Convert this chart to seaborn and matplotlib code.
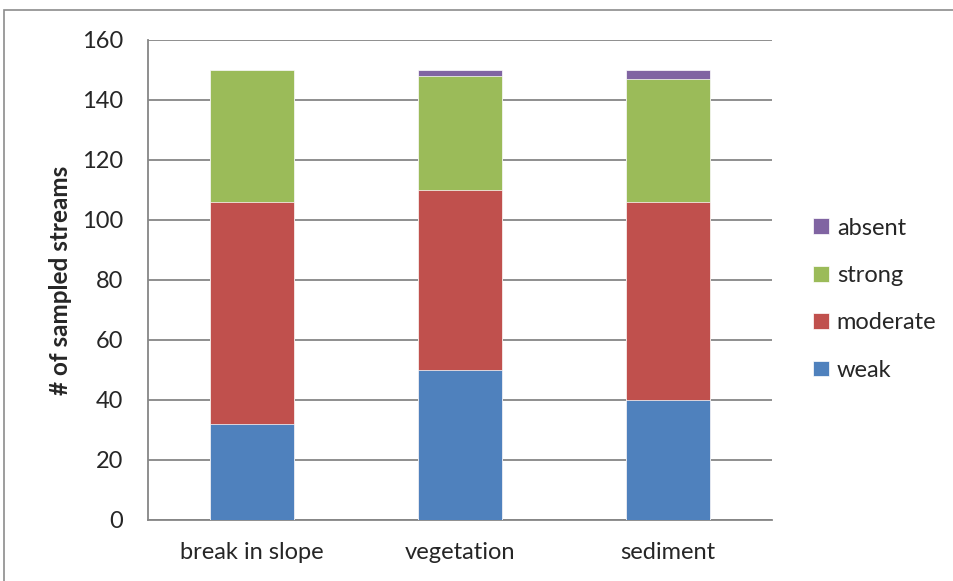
import numpy as np
import pandas as pd
import seaborn as sns
import matplotlib.pyplot as plt
from matplotlib.patches import Rectangle

# veri
categories = ["break in slope", "vegetation", "sediment"]
weak = [32, 50, 40]
moderate = [74, 60, 66]
strong = [44, 38, 41]
absent = [0, 2, 3]

levels = ["weak", "moderate", "strong", "absent"]
colors = {"weak": "#4F81BD", "moderate": "#C0504D", "strong": "#9BBB59", "absent": "#8064A2"}

df = pd.DataFrame({"weak": weak, "moderate": moderate, "strong": strong, "absent": absent},
                  index=categories)
cum = df.cumsum(axis=1)

sns.set_style("white")
plt.rcParams["font.family"] = ["Lato", "DejaVu Sans"]

fig = plt.figure(figsize=(9.54, 5.81), dpi=100)
ax = fig.add_axes([148 / 954, 61 / 581, 624 / 954, 480 / 581])
fig.patches.append(Rectangle((4 / 954, -0.01), 1.0, (581 - 10) / 581 + 0.01,
                             transform=fig.transFigure, fill=False,
                             edgecolor="#8c8c8c", linewidth=1.2))

# stacked: draw cumulative totals, top layer first
for lvl in reversed(levels):
    sns.barplot(x=categories, y=cum[lvl].values, color=colors[lvl], width=0.4,
                saturation=1, ax=ax, zorder=3, label=lvl, edgecolor="white", linewidth=0.5)

ax.set_xlim(-0.5, 2.5)
ax.set_ylim(0, 160)
ax.set_yticks(np.arange(0, 161, 20))
ax.yaxis.grid(True, color="#868686", linewidth=1.3, zorder=0)
ax.set_axisbelow(True)

# category boundaries as ticks, labels centered
ax.set_xticks([-0.5, 0.5, 1.5, 2.5])
ax.set_xticklabels([])
ax.set_xticks([0, 1, 2], minor=True)
ax.set_xticklabels(categories, minor=True, fontsize=17)
ax.tick_params(axis="x", which="minor", length=0, pad=16)
ax.tick_params(axis="x", which="major", length=5.5, width=1.3, color="#868686", direction="out")
ax.tick_params(axis="y", length=6, width=1.3, color="#868686", direction="out", labelsize=17, pad=12)

for s in ["top", "right"]:
    ax.spines[s].set_visible(False)
for s in ["left", "bottom"]:
    ax.spines[s].set_color("#868686")
    ax.spines[s].set_linewidth(1.3)

ax.set_ylabel("# of sampled streams", fontsize=17.5, fontweight="bold", labelpad=7)

handles, labels = ax.get_legend_handles_labels()
ax.legend(handles, labels, loc="center left", bbox_to_anchor=(1.032, 0.46), frameon=False,
          fontsize=17, handlelength=0.65, handleheight=0.65, handletextpad=0.35, labelspacing=1.12)

fig.savefig("out.png", dpi=100)
